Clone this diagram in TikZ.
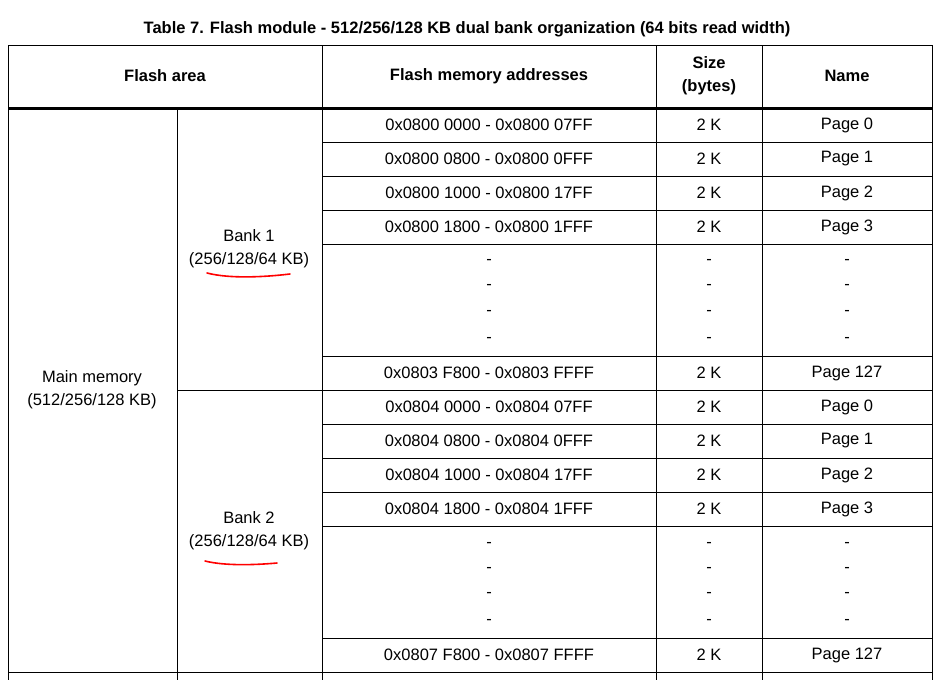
\documentclass[tikz,border=0pt]{standalone}
\usepackage{fontspec}
\setmainfont{Liberation Sans}
\begin{document}
\begin{tikzpicture}[x=1pt,y=-1pt,
  grid/.style={line width=1pt},
  cell/.style={inner sep=0pt,align=center,font=\fontsize{16.5}{23}\selectfont},
  hdr/.style={cell,font=\fontsize{16.5}{23}\selectfont\bfseries},
  redline/.style={red,line width=1.6pt,line cap=round}]
\useasboundingbox (0,0) rectangle (941,680);
\node[hdr] (title) at (467,29) {Table 7. Flash module - 512/256/128 KB dual bank organization (64 bits read width)};
% outer lines
\draw[grid] (8,45) -- (932,45);
\draw[line width=3pt] (8,108) -- (932,108);
\foreach \x in {8,322,656,762,932} \draw[grid] (\x,45) -- (\x,680);
\draw[grid] (177,108) -- (177,680);
\foreach \y in {142,176,210,244,356,424,458,492,526,638} \draw[grid] (322,\y) -- (932,\y);
\draw[grid] (177,390) -- (932,390);
\draw[grid] (8,672) -- (932,672);
% headers
\node[hdr] (h1) at (165,76) {Flash area};
\node[hdr] (h2) at (489,76) {Flash memory addresses};
\node[hdr] (h3) at (709,76) {Size\\(bytes)};
\node[hdr] (h4) at (847,76) {Name};
\node[cell] (mm) at (92,390) {Main memory\\(512/256/128 KB)};
\node[cell] (b1) at (249,249) {Bank 1\\(256/128/64 KB)};
\node[cell] (b2) at (249,531) {Bank 2\\(256/128/64 KB)};
% rows
\foreach \y/\a/\n [count=\i] in {125/0800 0000 - 0x0800 07FF/Page 0,159/0800 0800 - 0x0800 0FFF/Page 1,193/0800 1000 - 0x0800 17FF/Page 2,227/0800 1800 - 0x0800 1FFF/Page 3,373/0803 F800 - 0x0803 FFFF/Page 127,407/0804 0000 - 0x0804 07FF/Page 0,441/0804 0800 - 0x0804 0FFF/Page 1,475/0804 1000 - 0x0804 17FF/Page 2,509/0804 1800 - 0x0804 1FFF/Page 3,655/0807 F800 - 0x0807 FFFF/Page 127}{
  \node[cell] (a\i) at (489,\y) {0x\a};
  \node[cell] (s\i) at (709,\y) {2 K};
  \node[cell] (n\i) at (847,\y) {\n};
}
\foreach \y [count=\i] in {262,287,313,340,545,570,595,622}{
  \node[cell] (da\i) at (489,\y) {-};
  \node[cell] (ds\i) at (709,\y) {-};
  \node[cell] (dn\i) at (847,\y) {-};
}
\draw[redline] (207,273) .. controls (230,279) and (265,277) .. (290,274);
\draw[redline] (205,561) .. controls (225,566) and (255,565) .. (277,563);
\end{tikzpicture}
\end{document}
